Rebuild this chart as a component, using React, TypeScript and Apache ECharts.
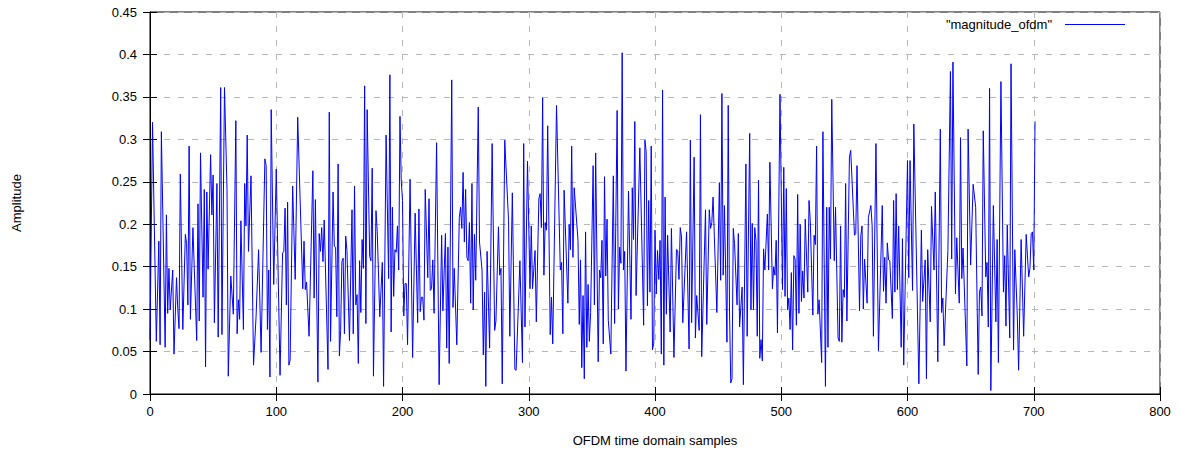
import React, { useEffect, useRef } from "react";
import * as echarts from "echarts";

// OFDM time-domain sample index (vertices)
const sampleIndex: number[] = [
  0, 2, 5, 7, 8, 9, 12, 13, 14, 15, 16, 18, 19, 21, 22, 23, 24, 26, 28, 29, 30, 31, 32, 34, 37, 38, 39, 40, 42, 43, 44, 45, 46, 48, 49, 50, 51, 53, 54, 56, 57,
  59, 61, 62, 64, 66, 68, 69, 70, 71, 72, 74, 75, 76, 77, 78, 80, 82, 84, 86, 88, 91, 92, 93, 94, 95, 96, 98, 100, 103, 105, 106, 107, 108, 109, 110, 111, 113, 115, 117,
  121, 122, 123, 124, 126, 129, 130, 131, 133, 134, 135, 136, 137, 138, 141, 142, 143, 145, 146, 147, 148, 149, 150, 151, 152, 153, 154, 155, 156, 158, 160, 161, 162, 163, 164, 165, 166, 167, 168, 169, 170, 171, 172, 174, 175, 176, 177,
  179, 180, 182, 184, 185, 187, 189, 190, 191, 192, 193, 194, 195, 196, 197, 198, 199, 200, 201, 202, 203, 204, 206, 208, 210, 212, 213, 214, 215, 216, 217, 218, 220, 221, 222, 223, 224, 225, 227, 229, 231, 232, 234, 235, 236, 237, 239,
  240, 241, 243, 245, 246, 247, 248, 249, 250, 251, 252, 253, 254, 255, 256, 257, 258, 260, 261, 263, 264, 265, 266, 267, 269, 271, 273, 274, 276, 277, 278, 279, 281, 284, 285, 287, 289, 290, 293, 295, 296, 297, 299,
  301, 302, 303, 305, 306, 308, 309, 310, 311, 312, 313, 314, 315, 317, 318, 319, 322, 325, 326, 327, 328, 331, 332, 333, 334, 335, 336, 339, 340, 341, 342, 343, 344, 345, 346, 347, 348, 349, 351, 352, 353, 355, 356, 357, 358, 359,
  360, 361, 362, 363, 365, 367, 368, 370, 371, 372, 373, 374, 375, 376, 377, 379, 381, 382, 383, 384, 385, 388, 391, 392, 393, 394, 395, 396, 397, 398, 399, 400, 401, 402, 403, 404, 405, 406, 407, 408, 409, 410, 412, 413, 415, 417, 418, 419,
  420, 421, 422, 425, 427, 428, 429, 431, 432, 433, 435, 436, 437, 440, 441, 443, 444, 445, 446, 447, 449, 451, 452, 453, 454, 455, 457, 458, 459, 460, 461, 462, 463, 465, 466, 467, 469, 470, 472, 473, 475, 476, 477, 478, 479,
  480, 481, 482, 483, 484, 485, 486, 487, 489, 490, 491, 493, 494, 495, 496, 497, 499, 501, 502, 503, 504, 505, 506, 507, 508, 509, 510, 511, 512, 513, 514, 515, 516, 517, 518, 519, 521, 522, 523, 525, 526, 527, 528, 529, 530, 532, 533, 535, 536, 537, 538, 539, 540,
  542, 543, 545, 546, 547, 548, 549, 550, 551, 552, 554, 555, 558, 559, 560, 562, 563, 564, 565, 566, 568, 569, 571, 572, 573, 575, 577, 580, 581, 582, 583, 584, 585, 586, 588, 589, 590, 591, 592, 593, 595, 596, 597, 600, 601,
  602, 604, 605, 609, 611, 612, 614, 615, 616, 618, 619, 621, 622, 624, 626, 627, 628, 629, 632, 634, 635, 636, 638, 639, 641, 642, 643, 644, 647, 648, 650, 652, 654, 656, 657, 658, 659, 660,
  662, 663, 664, 665, 666, 668, 670, 671, 672, 674, 676, 677, 678, 679, 681, 682, 684, 685, 687, 688, 690, 692, 694, 696, 697, 698, 699, 700, 701,
];

// Amplitude at each of those samples
const magnitude: number[] = [
  0.064, 0.32, 0.062, 0.18, 0.058, 0.309, 0.055, 0.211, 0.095, 0.148, 0.099, 0.146, 0.047, 0.137, 0.1, 0.077, 0.259, 0.076, 0.188, 0.177, 0.105, 0.292, 0.088, 0.196, 0.063, 0.224, 0.086, 0.284, 0.114, 0.241, 0.032, 0.238, 0.147, 0.282, 0.211, 0.258, 0.084, 0.248, 0.067, 0.361, 0.07,
  0.361, 0.241, 0.021, 0.139, 0.094, 0.322, 0.071, 0.111, 0.088, 0.204, 0.076, 0.248, 0.198, 0.305, 0.168, 0.257, 0.034, 0.091, 0.17, 0.049, 0.277, 0.269, 0.076, 0.146, 0.02, 0.335, 0.129, 0.265, 0.022, 0.166, 0.168, 0.219, 0.105, 0.226, 0.034, 0.04, 0.245, 0.135, 0.326,
  0.124, 0.18, 0.123, 0.132, 0.068, 0.263, 0.113, 0.229, 0.014, 0.189, 0.168, 0.196, 0.156, 0.205, 0.029, 0.332, 0.062, 0.238, 0.174, 0.173, 0.091, 0.271, 0.045, 0.075, 0.156, 0.16, 0.071, 0.186, 0.169, 0.063, 0.217, 0.071, 0.245, 0.105, 0.117, 0.036, 0.157, 0.096, 0.182, 0.148, 0.363, 0.083, 0.335, 0.162, 0.157, 0.266, 0.021,
  0.216, 0.191, 0.091, 0.155, 0.009, 0.305, 0.136, 0.376, 0.073, 0.22, 0.115, 0.17, 0.167, 0.198, 0.146, 0.327, 0.251, 0.228, 0.092, 0.13, 0.13, 0.058, 0.253, 0.043, 0.213, 0.084, 0.218, 0.097, 0.114, 0.114, 0.087, 0.241, 0.137, 0.23, 0.122, 0.124, 0.158, 0.095, 0.296, 0.011, 0.187, 0.098, 0.189, 0.054, 0.173, 0.036, 0.37,
  0.102, 0.148, 0.058, 0.208, 0.22, 0.195, 0.261, 0.179, 0.241, 0.161, 0.157, 0.202, 0.107, 0.248, 0.099, 0.188, 0.134, 0.338, 0.179, 0.146, 0.046, 0.12, 0.009, 0.168, 0.054, 0.295, 0.075, 0.086, 0.197, 0.14, 0.148, 0.012, 0.299, 0.204, 0.068, 0.237, 0.029, 0.028, 0.157, 0.037, 0.295, 0.079, 0.274,
  0.124, 0.198, 0.124, 0.169, 0.085, 0.23, 0.236, 0.196, 0.349, 0.14, 0.202, 0.193, 0.316, 0.07, 0.114, 0.059, 0.34, 0.146, 0.155, 0.071, 0.24, 0.107, 0.2, 0.17, 0.292, 0.161, 0.243, 0.181, 0.082, 0.158, 0.031, 0.116, 0.018, 0.191, 0.055, 0.129, 0.062, 0.096, 0.269, 0.105, 0.284, 0.038, 0.146, 0.137, 0.181, 0.059,
  0.256, 0.139, 0.206, 0.087, 0.047, 0.257, 0.083, 0.334, 0.1, 0.173, 0.154, 0.402, 0.146, 0.168, 0.027, 0.239, 0.088, 0.243, 0.182, 0.321, 0.116, 0.29, 0.081, 0.299, 0.286, 0.104, 0.228, 0.12, 0.292, 0.052, 0.06, 0.193, 0.118, 0.169, 0.135, 0.181, 0.047, 0.358, 0.034, 0.232, 0.094, 0.187, 0.073, 0.195, 0.043, 0.17, 0.169, 0.135,
  0.196, 0.185, 0.084, 0.191, 0.053, 0.299, 0.084, 0.279, 0.066, 0.116, 0.075, 0.329, 0.044, 0.217, 0.082, 0.217, 0.195, 0.202, 0.232, 0.186, 0.096, 0.249, 0.134, 0.354, 0.14, 0.222, 0.061, 0.34, 0.099, 0.013, 0.018, 0.195, 0.177, 0.105, 0.189, 0.079, 0.126, 0.011, 0.271, 0.068, 0.307, 0.099, 0.201, 0.099, 0.196,
  0.181, 0.068, 0.252, 0.042, 0.064, 0.039, 0.171, 0.146, 0.212, 0.146, 0.273, 0.124, 0.15, 0.14, 0.181, 0.072, 0.353, 0.123, 0.267, 0.115, 0.242, 0.099, 0.113, 0.076, 0.143, 0.052, 0.163, 0.159, 0.081, 0.235, 0.095, 0.2, 0.109, 0.145, 0.113, 0.206, 0.12, 0.228, 0.204, 0.093, 0.187, 0.176, 0.292, 0.094, 0.111, 0.037, 0.309, 0.009, 0.22, 0.055, 0.22, 0.159, 0.347,
  0.157, 0.22, 0.066, 0.062, 0.198, 0.061, 0.123, 0.114, 0.248, 0.086, 0.279, 0.287, 0.187, 0.189, 0.269, 0.098, 0.186, 0.198, 0.1, 0.159, 0.107, 0.208, 0.222, 0.198, 0.068, 0.295, 0.051, 0.222, 0.121, 0.161, 0.107, 0.178, 0.158, 0.157, 0.089, 0.228, 0.12, 0.236, 0.123, 0.198, 0.055, 0.183, 0.034, 0.275, 0.137,
  0.275, 0.122, 0.318, 0.012, 0.193, 0.109, 0.158, 0.018, 0.17, 0.085, 0.221, 0.146, 0.238, 0.038, 0.312, 0.096, 0.113, 0.057, 0.169, 0.38, 0.159, 0.391, 0.118, 0.184, 0.107, 0.302, 0.136, 0.172, 0.033, 0.312, 0.152, 0.247, 0.22, 0.023, 0.12, 0.126, 0.092, 0.31,
  0.138, 0.155, 0.079, 0.36, 0.004, 0.222, 0.085, 0.182, 0.037, 0.368, 0.12, 0.163, 0.08, 0.199, 0.066, 0.389, 0.052, 0.17, 0.091, 0.028, 0.182, 0.068, 0.188, 0.138, 0.148, 0.189, 0.191, 0.146, 0.321,
];

const xTicks = { min: 0, max: 800, interval: 100 };
const yTicks = { min: 0, max: 0.45, interval: 0.05 };
const seriesName = '"magnitude_ofdm"';
const xTitle = "OFDM time domain samples";
const yTitle = "Amplitude";

const FONT = "'Liberation Sans', Arial, Helvetica, sans-serif";
const FS = 13;

export default function App() {
  const ref = useRef<HTMLDivElement>(null);

  useEffect(() => {
    if (!ref.current) return;
    const chart = echarts.init(ref.current, undefined, { renderer: "svg" });
    const n = Math.min(sampleIndex.length, magnitude.length);
    const data = [] as [number, number][];
    for (let i = 0; i < n; i++) data.push([sampleIndex[i], magnitude[i]]);

    const gridLine = {
      show: true,
      lineStyle: { color: "#b8b8b8", type: [6, 8] as any, width: 1 },
    };
    const tickStyle = { show: true, inside: true, length: 7, lineStyle: { color: "#000", width: 1 } };
    const lineAxis = { show: true, lineStyle: { color: "#000", width: 1 } };

    chart.setOption({
      animation: false,
      backgroundColor: "#ffffff",
      textStyle: { fontFamily: FONT },
      grid: {
        left: 150,
        right: 19,
        top: 12,
        bottom: 58,
        show: true,
        borderColor: "#000",
        borderWidth: 1,
        backgroundColor: "transparent",
      },
      legend: {
        show: true,
        right: 54,
        top: 18,
        padding: 0,
        align: "right",
        icon: "rect",
        itemWidth: 60,
        itemHeight: 1,
        textStyle: { fontFamily: FONT, fontSize: FS, color: "#000", padding: [0, 8, 0, 0] },
        data: [seriesName],
      },
      xAxis: [
        {
          type: "value",
          min: xTicks.min,
          max: xTicks.max,
          interval: xTicks.interval,
          position: "bottom",
          axisLine: lineAxis,
          axisTick: tickStyle,
          splitLine: gridLine,
          axisLabel: { color: "#000", fontSize: FS, fontFamily: FONT, margin: 11 },
          name: xTitle,
          nameLocation: "middle",
          nameGap: 40,
          nameTextStyle: { color: "#000", fontSize: FS, fontFamily: FONT },
        },
        {
          type: "value",
          min: xTicks.min,
          max: xTicks.max,
          interval: xTicks.interval,
          position: "top",
          axisLine: lineAxis,
          axisTick: tickStyle,
          splitLine: { show: false },
          axisLabel: { show: false },
        },
      ],
      yAxis: [
        {
          type: "value",
          min: yTicks.min,
          max: yTicks.max,
          interval: yTicks.interval,
          position: "left",
          axisLine: lineAxis,
          axisTick: tickStyle,
          splitLine: gridLine,
          axisLabel: {
            color: "#000",
            fontSize: FS,
            fontFamily: FONT,
            margin: 13,
            formatter: (v: number) => String(+v.toFixed(2)),
          },
          name: yTitle,
          nameLocation: "middle",
          nameGap: 127,
          nameTextStyle: { color: "#000", fontSize: FS, fontFamily: FONT },
        },
        {
          type: "value",
          min: yTicks.min,
          max: yTicks.max,
          interval: yTicks.interval,
          position: "right",
          axisLine: lineAxis,
          axisTick: tickStyle,
          splitLine: { show: false },
          axisLabel: { show: false },
        },
      ],
      series: [
        {
          name: seriesName,
          type: "line",
          xAxisIndex: 0,
          yAxisIndex: 0,
          data,
          showSymbol: false,
          symbol: "none",
          lineStyle: { color: "#0000ff", width: 1 },
          itemStyle: { color: "#0000ff" },
          emphasis: { disabled: true },
        },
      ],
    });

    return () => chart.dispose();
  }, []);

  return (
    <div
      ref={ref}
      style={{ position: "fixed", left: 0, top: 0, width: 1179, height: 452 }}
    />
  );
}
